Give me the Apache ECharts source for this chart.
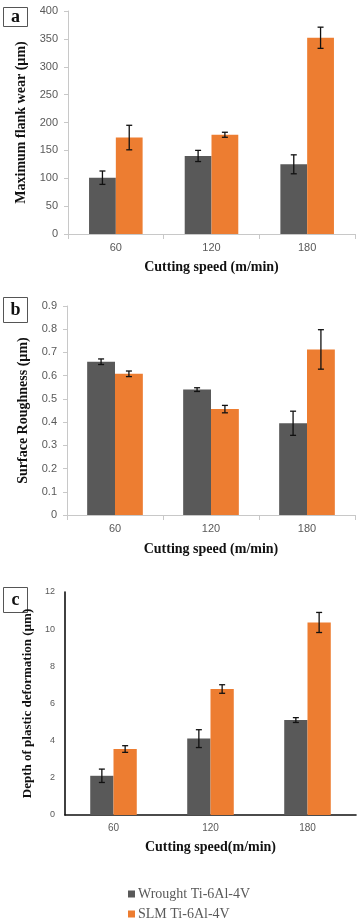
<!DOCTYPE html>
<html><head><meta charset="utf-8">
<script src="https://cdn.jsdelivr.net/npm/echarts@6/dist/echarts.min.js"></script>
<style>html,body{margin:0;padding:0;background:#fff}#c{width:358px;height:919px}</style>
</head><body><div id="c"></div>
<script>
const categories = ['60', '120', '180'];
const seriesNames = ['Wrought Ti-6Al-4V', 'SLM Ti-6Al-4V'];

const wearWrought = [101, 140, 125];
const wearWroughtErr = [12, 10, 17];
const wearSLM = [173, 178, 352];
const wearSLMErr = [22, 4.5, 19];

const roughWrought = [0.660, 0.540, 0.395];
const roughWroughtErr = [0.012, 0.008, 0.052];
const roughSLM = [0.608, 0.456, 0.713];
const roughSLMErr = [0.012, 0.016, 0.085];

const depthWrought = [2.11, 4.11, 5.11];
const depthWroughtErr = [0.36, 0.48, 0.13];
const depthSLM = [3.55, 6.78, 10.36];
const depthSLMErr = [0.18, 0.23, 0.54];

const yTicksA = [0, 50, 100, 150, 200, 250, 300, 350, 400];
const yTicksB = [0, 0.1, 0.2, 0.3, 0.4, 0.5, 0.6, 0.7, 0.8, 0.9];
const yTicksC = [0, 2, 4, 6, 8, 10, 12];

const GRAY = '#595959', ORANGE = '#ED7D31';
const SERIF = '"Liberation Serif","DejaVu Serif",serif';
const SANS = '"Liberation Sans","DejaVu Sans",sans-serif';

function errSeries(idx, vals, errs, side, frac) {
  return {
    type: 'custom', xAxisIndex: idx, yAxisIndex: idx, z: 10, silent: true,
    data: vals.map((v, i) => [i, v, errs[i]]),
    renderItem: function (params, api) {
      const x = api.value(0), y = api.value(1), e = api.value(2);
      const top = api.coord([x, y + e]);
      const bot = api.coord([x, y - e]);
      const band = api.size([1, 0])[0];
      const barW = band * frac;
      const cx = top[0] + side * barW / 2;
      const st = { stroke: '#111', lineWidth: 1.3 };
      return { type: 'group', children: [
        { type: 'line', shape: { x1: cx, y1: top[1], x2: cx, y2: bot[1] }, style: st },
        { type: 'line', shape: { x1: cx - 3, y1: top[1], x2: cx + 3, y2: top[1] }, style: st },
        { type: 'line', shape: { x1: cx - 3, y1: bot[1], x2: cx + 3, y2: bot[1] }, style: st }
      ]};
    }
  };
}

function barSeries(idx, name, vals, color, gap) {
  return { type: 'bar', name: name, xAxisIndex: idx, yAxisIndex: idx, data: vals,
    barGap: '0%', barCategoryGap: gap, itemStyle: { color: color } };
}

function xAx(idx, name, light, labelSize, nameGap) {
  return {
    type: 'category', gridIndex: idx, data: categories,
    axisLine: { lineStyle: { color: light ? '#c8c8c8' : '#111', width: light ? 1 : 1.6 } },
    axisTick: { show: light, length: 5, lineStyle: { color: '#c8c8c8' } },
    axisLabel: { color: GRAY, fontFamily: SANS, fontSize: labelSize, margin: 8 },
    name: name, nameLocation: 'middle', nameGap: nameGap,
    nameTextStyle: { fontFamily: SERIF, fontWeight: 'bold', fontSize: 14, color: '#111' }
  };
}

function yAx(idx, name, ticks, interval, light, labelSize, nameGap, nameSize, fmt) {
  return {
    type: 'value', gridIndex: idx, min: ticks[0], max: ticks[ticks.length - 1], interval: interval,
    splitLine: { show: false },
    axisLine: { show: true, lineStyle: { color: light ? '#c8c8c8' : '#111', width: light ? 1 : 1.6 } },
    axisTick: { show: light, length: 4, lineStyle: { color: '#c8c8c8' } },
    axisLabel: { color: GRAY, fontFamily: SANS, fontSize: labelSize, margin: 10, formatter: fmt },
    name: name, nameLocation: 'middle', nameGap: nameGap, nameRotate: 90,
    nameTextStyle: { fontFamily: SERIF, fontWeight: 'bold', fontSize: nameSize, color: '#111' }
  };
}

function labelBox(letter, x, y, w, h) {
  return { type: 'group', left: x, top: y, children: [
    { type: 'rect', shape: { x: 0, y: 0, width: w, height: h }, style: { fill: '#fff', stroke: '#555', lineWidth: 1 } },
    { type: 'text', x: w / 2, y: h / 2, style: { text: letter, fontFamily: SERIF, fontWeight: 'bold', fontSize: 18, fill: '#111', align: 'center', verticalAlign: 'middle' } }
  ]};
}

const chart = echarts.init(document.getElementById('c'), null, { renderer: 'canvas' });
chart.setOption({
  animation: false,
  backgroundColor: '#fff',
  grid: [
    { left: 68, top: 11, width: 287, height: 223 },
    { left: 67, top: 306, width: 288, height: 209 },
    { left: 65, top: 592, width: 291, height: 223 }
  ],
  xAxis: [
    xAx(0, 'Cutting speed (m/min)', true, 11, 26),
    xAx(1, 'Cutting speed (m/min)', true, 11, 27),
    xAx(2, 'Cutting speed(m/min)', false, 10, 25)
  ],
  yAxis: [
    yAx(0, 'Maximum flank wear (µm)', yTicksA, 50, true, 11, 31, 14, v => String(v)),
    yAx(1, 'Surface Roughness (µm)', yTicksB, 0.1, true, 11, 28, 14, v => (v === 0 ? '0' : v.toFixed(1))),
    yAx(2, 'Depth of plastic deformation (µm)', yTicksC, 2, false, 9, 22, 13, v => String(v))
  ],
  legend: {
    orient: 'vertical', left: 128, top: 887, width: 200, height: 60, padding: 0,
    itemWidth: 7, itemHeight: 7, itemGap: 6, icon: 'rect',
    data: seriesNames,
    textStyle: { fontFamily: SERIF, fontSize: 14, color: GRAY, lineHeight: 14, padding: [0, 0, 0, -2] }
  },
  graphic: [
    labelBox('a', 3, 7, 24, 19),
    labelBox('b', 3, 297, 24, 25),
    labelBox('c', 3, 587, 24, 25)
  ],
  series: [
    barSeries(0, seriesNames[0], wearWrought, GRAY, '44%'),
    barSeries(0, seriesNames[1], wearSLM, ORANGE, '44%'),
    barSeries(1, seriesNames[0], roughWrought, GRAY, '42%'),
    barSeries(1, seriesNames[1], roughSLM, ORANGE, '42%'),
    barSeries(2, seriesNames[0], depthWrought, GRAY, '52%'),
    barSeries(2, seriesNames[1], depthSLM, ORANGE, '52%'),
    errSeries(0, wearWrought, wearWroughtErr, -1, 0.28),
    errSeries(0, wearSLM, wearSLMErr, 1, 0.28),
    errSeries(1, roughWrought, roughWroughtErr, -1, 0.29),
    errSeries(1, roughSLM, roughSLMErr, 1, 0.29),
    errSeries(2, depthWrought, depthWroughtErr, -1, 0.24),
    errSeries(2, depthSLM, depthSLMErr, 1, 0.24)
  ]
});
</script></body></html>
